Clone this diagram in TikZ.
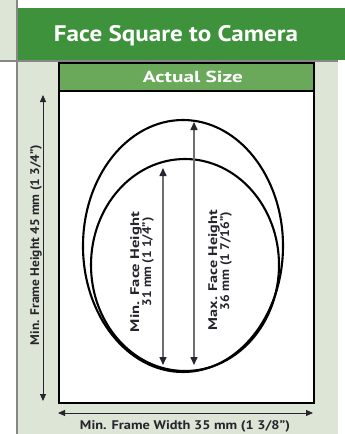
\documentclass[tikz,border=0pt]{standalone}
\usepackage{fontspec}
\setmainfont{PT Sans}
\usepackage{graphicx}
\usetikzlibrary{shapes.geometric,arrows.meta}
\definecolor{darkgreen}{RGB}{62,146,60}
\definecolor{lightgreen}{RGB}{106,168,90}
\definecolor{pale}{RGB}{221,230,214}
\definecolor{rulegray}{RGB}{135,135,135}
\definecolor{ink}{RGB}{38,36,44}
\definecolor{arrowgray}{RGB}{110,110,110}
\newcommand\stretchto[2]{\resizebox{#1}{\height}{#2}}
\begin{document}
\begin{tikzpicture}[x=1pt,y=-1pt,
  lbl/.style={text=ink,font=\bfseries\fontsize{12.5}{14}\selectfont,inner sep=0pt,anchor=base},
  ilbl/.style={text=ink,font=\bfseries\fontsize{12.5}{14}\selectfont,inner sep=0pt,anchor=base,rotate=90},
  dimline/.style={draw=ink,line width=1pt,{Triangle[length=7pt,width=6pt]}-{Triangle[length=7pt,width=6pt]}},
  faceline/.style={draw=arrowgray,line width=1.5pt,{Triangle[length=8pt,width=7pt,color=ink]}-{Triangle[length=8pt,width=7pt,color=ink]}},
  face/.style={ellipse,draw=black,line width=2.1pt,inner sep=0pt}
]
\useasboundingbox (0,0) rectangle (345,434);
% backgrounds
\fill[white] (0,0) rectangle (345,434);
\fill[pale] (0,0) rectangle (17,61);
\fill[pale] (17,61) rectangle (338,434);
\fill[darkgreen] (17,8) rectangle (345,60);
\draw[rulegray,line width=1.6pt] (17,0) -- (17,434);
\draw[rulegray,line width=1.2pt] (0,61) -- (338,61);
% title
\node[text=white,font=\bfseries\fontsize{22.5}{26}\selectfont,inner sep=0pt,anchor=base] (title) at (176,41) {\stretchto{244pt}{Face Square to Camera}};
% frame
\node[draw=black,line width=1.5pt,fill=white,minimum width=255pt,minimum height=340pt,inner sep=0pt,anchor=north west] (frame) at (58,62) {};
\node[draw=black,line width=1.5pt,fill=lightgreen,minimum width=255pt,minimum height=28pt,inner sep=0pt,anchor=north west] (band) at (58,62) {};
\node[text=white,font=\bfseries\fontsize{16}{18}\selectfont,inner sep=0pt,anchor=base] (actual) at (193,82.5) {\stretchto{100pt}{Actual Size}};
% faces
\node[face,minimum width=200pt,minimum height=252pt] (outer) at (183,246) {};
\node[face,minimum width=188pt,minimum height=212pt] (inner) at (185,265) {};
% dimension arrows
\coordinate (hTop) at (43,95);
\coordinate (hBot) at (43,401);
\coordinate (wL) at (58,413);
\coordinate (wR) at (313,413);
\coordinate (minTop) at (163,168);
\coordinate (minBot) at (163,365);
\coordinate (maxTop) at (194,122);
\coordinate (maxBot) at (194,365);
\draw[dimline] (hTop) -- (hBot);
\draw[dimline] (wL) -- (wR);
\draw[faceline] (minTop) -- (minBot);
\draw[faceline] (maxTop) -- (maxBot);
% labels
\node[lbl,rotate=90] (hlabel) at (39,245) {\stretchto{200pt}{Min. Frame Height 45 mm (1 3/4")}};
\node[lbl] (wlabel) at (185,429) {\stretchto{210pt}{Min. Frame Width 35 mm (1 3/8")}};
\node[ilbl] (min1) at (139,272) {\stretchto{120pt}{Min. Face Height}};
\node[ilbl] (min2) at (151,262) {\stretchto{89pt}{31 mm (1 1/4")}};
\node[ilbl] (max1) at (217,270) {\stretchto{120pt}{Max. Face Height}};
\node[ilbl] (max2) at (229,261) {\stretchto{98pt}{36 mm (1 7/16")}};
\end{tikzpicture}
\end{document}
